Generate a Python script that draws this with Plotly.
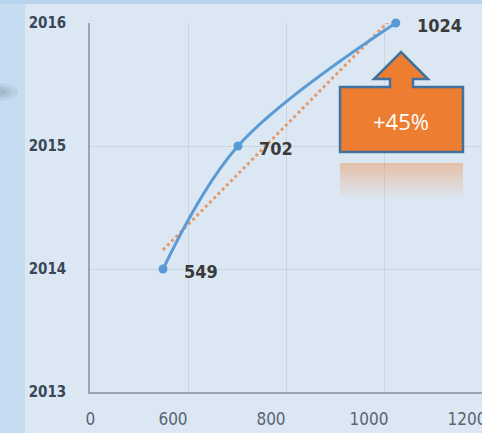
import numpy as np
import plotly.graph_objects as go

# ---- data ----
x_values = [549, 702, 1024]
y_years = [2014, 2015, 2016]
point_labels = ["549", "702", "1024"]
x_tickvals = [400, 600, 800, 1000, 1200]
x_ticktext = ["\u2003\u20030", "600", "800", "1000", "1200"]
y_tickvals = [2013, 2014, 2015, 2016]
y_ticktext = ["2013", "2014", "2015", "2016"]
callout_text = "+45%"

# linear trend of year vs value
slope, intercept = np.polyfit(x_values, y_years, 1)
trend_x = [min(x_values), max(x_values)]
trend_y = [slope * v + intercept for v in trend_x]

fig = go.Figure()

fig.add_trace(go.Scatter(
    x=trend_x, y=trend_y, mode="lines",
    line=dict(color="#e59a6b", width=3, dash="dot"),
    hoverinfo="skip", showlegend=False, cliponaxis=False))

fig.add_trace(go.Scatter(
    x=x_values, y=y_years, mode="lines+markers",
    line=dict(color="#5b9bd5", width=3, shape="spline", smoothing=1.0),
    marker=dict(color="#5b9bd5", size=9),
    showlegend=False, cliponaxis=False))

for xv, yv, lab in zip(x_values, y_years, point_labels):
    fig.add_annotation(x=xv, y=yv, text=lab, showarrow=False,
                       xanchor="left", yanchor="middle", xshift=19, yshift=-2,
                       font=dict(family="DejaVu Sans Condensed", size=18,
                                 color="#3a3a3a", weight="bold"))

L, B, T, W, H = 90, 41, 23, 392, 369


def px(xp):
    return (xp - L) / W


def py(yp):
    return (433 - B - yp) / H


shapes = []
# background panels
shapes.append(dict(type="rect", xref="paper", yref="paper", x0=px(-5), x1=px(490), y0=py(440), y1=py(-5),
                   fillcolor="#dbe8f4", line=dict(width=0), layer="below"))
shapes.append(dict(type="rect", xref="paper", yref="paper",
                   x0=px(-5), x1=px(25), y0=py(440), y1=py(4),
                   fillcolor="#c5dcf1", line=dict(width=0), layer="below"))
shapes.append(dict(type="rect", xref="paper", yref="paper",
                   x0=px(-5), x1=px(490), y0=py(4), y1=py(-5),
                   fillcolor="#b8d3ec", line=dict(width=0), layer="below"))
# soft shadow smear on left
for i, (w, op) in enumerate([(18, 0.10), (12, 0.12), (7, 0.15)]):
    shapes.append(dict(type="circle", xref="paper", yref="paper",
                       x0=px(-w), x1=px(w), y0=py(92 + w * 0.5), y1=py(92 - w * 0.5),
                       fillcolor=f"rgba(110,115,125,{op})", line=dict(width=0), layer="below"))

# callout arrow (orange with blue border)
path_pts = [(340, 152), (340, 87), (390, 87), (390, 79), (374, 79), (401, 52),
            (428, 79), (413, 79), (413, 87), (463, 87), (463, 152)]
path = "M " + " L ".join(f"{px(a):.4f},{py(b):.4f}" for a, b in path_pts) + " Z"
shapes.append(dict(type="path", xref="paper", yref="paper", path=path,
                   fillcolor="#ed7d31", line=dict(color="#41719c", width=2.5)))

# reflection
n = 10
for i in range(n):
    y0 = 163 + i * 3.5
    y1 = y0 + 3.5
    op = 0.55 * (1 - i / n)
    shapes.append(dict(type="rect", xref="paper", yref="paper",
                       x0=px(340), x1=px(463), y0=py(y1), y1=py(y0),
                       fillcolor=f"rgba(237,160,110,{op:.3f})", line=dict(width=0)))

fig.add_annotation(xref="paper", yref="paper", x=px(401), y=py(121), text=callout_text,
                   showarrow=False, xanchor="center", yanchor="middle",
                   font=dict(family="Open Sans", size=22, color="white"))

fig.update_layout(
    width=482, height=433,
    margin=dict(l=L, r=0, t=T, b=B, autoexpand=False),
    paper_bgcolor="#dbe8f4", plot_bgcolor="rgba(0,0,0,0)",
    shapes=shapes,
    xaxis=dict(range=[400, 1200], tickvals=x_tickvals, ticktext=x_ticktext,
               showgrid=True, gridcolor="#c9d6e2", gridwidth=1, automargin=False,
               zeroline=False, showline=True, linecolor="#9aa6b2", linewidth=1.5,
               ticks="", ticklabelshift=-15, ticklabelstandoff=11,
               ticklabeloverflow="allow",
               tickfont=dict(family="DejaVu Sans Condensed", size=17, color="#5a6470")),
    yaxis=dict(range=[2013, 2016], tickvals=y_tickvals, ticktext=y_ticktext,
               showgrid=True, gridcolor="#c9d6e2", gridwidth=1, automargin=False,
               zeroline=False, showline=True, linecolor="#9aa6b2", linewidth=1.5,
               ticks="", ticklabelstandoff=19, ticklabeloverflow="allow",
               tickfont=dict(family="DejaVu Sans Condensed", size=15, color="#3b4656",
                             weight="bold")),
)

fig.write_html("out.html", config={"displayModeBar": False},
               post_script="document.body.style.margin='0';document.body.style.overflow='hidden';")
